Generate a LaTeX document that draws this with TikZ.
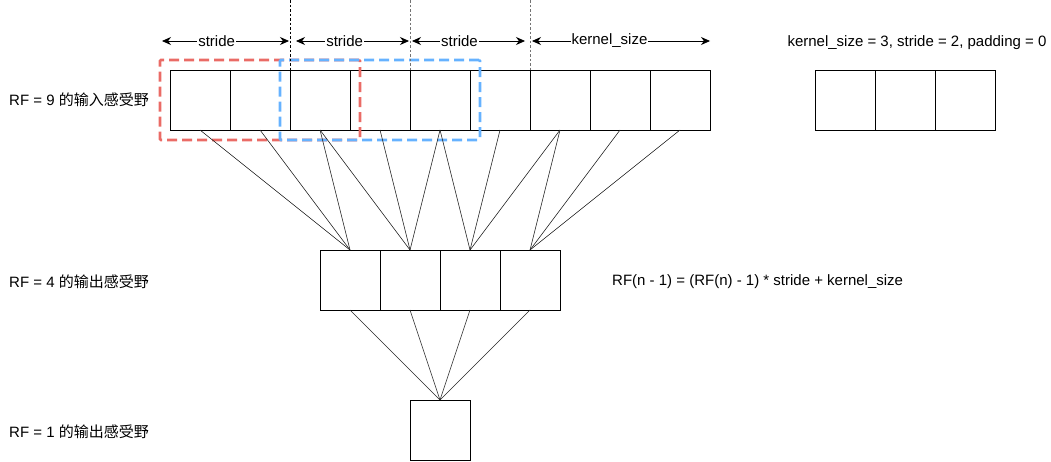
\documentclass[tikz,border=0pt]{standalone}
\usepackage{fontspec}
\setmainfont{Liberation Sans}
\newfontfamily\cjk{Noto Sans CJK SC}
\usetikzlibrary{positioning,fit,arrows.meta}
\definecolor{dashred}{HTML}{EA6B66}
\definecolor{dashblue}{HTML}{66B2FF}
\tikzset{
  cell/.style={draw=black,line width=0.9pt,minimum size=60pt,inner sep=0pt,outer sep=0pt},
  link/.style={draw=black!85,line width=0.6pt},
  guide/.style={dash pattern=on 2.5pt off 2pt,line width=0.9pt},
  span/.style={{Stealth[length=9pt,width=8pt]}-{Stealth[length=9pt,width=8pt]},line width=0.8pt},
  tag/.style={fill=white,inner sep=1pt},
  window/.style={dash pattern=on 10pt off 5pt,line width=2.8pt,inner sep=10pt,rounded corners=1pt},
  lbl/.style={anchor=west,inner sep=0pt}
}

\begin{document}
\begin{tikzpicture}[x=1pt,y=-1pt,font=\fontsize{15}{18}\selectfont]
  \useasboundingbox (0,0) rectangle (1051,461);

  % input row
  \node [cell] (in1) at (200,100) {};
  \node [cell,right=0pt of in1] (in2) {};
  \node [cell,right=0pt of in2] (in3) {};
  \node [cell,right=0pt of in3] (in4) {};
  \node [cell,right=0pt of in4] (in5) {};
  \node [cell,right=0pt of in5] (in6) {};
  \node [cell,right=0pt of in6] (in7) {};
  \node [cell,right=0pt of in7] (in8) {};
  \node [cell,right=0pt of in8] (in9) {};

  % middle row
  \node [cell] (mid1) at (350,280) {};
  \node [cell,right=0pt of mid1] (mid2) {};
  \node [cell,right=0pt of mid2] (mid3) {};
  \node [cell,right=0pt of mid3] (mid4) {};

  % output
  \node [cell] (out1) at (440,430) {};

  % kernel
  \node [cell] (k1) at (845,100) {};
  \node [cell,right=0pt of k1] (k2) {};
  \node [cell,right=0pt of k2] (k3) {};

  \node [lbl] (rf9) at (9,100) {RF = 9 {\cjk 的输入感受野}};
  \node [lbl] (rf4) at (9,282) {RF = 4 {\cjk 的输出感受野}};
  \node [lbl] (rf1) at (9,432) {RF = 1 {\cjk 的输出感受野}};
  \node [lbl] (formula) at (612,282) {RF(n - 1) = (RF(n) - 1) * stride + kernel\_size};
  \node (params) at (917,43) {kernel\_size = 3, stride = 2, padding = 0};

  \node [window,draw=dashred,fit=(in1)(in3)] (win1) {};
  \node [window,draw=dashblue,fit=(in3)(in5)] (win2) {};

  \foreach \a/\b in {1/1,2/1,3/1,3/2,4/2,5/2,5/3,6/3,7/3,7/4,8/4,9/4}
    \draw [link] (in\a.south) -- (mid\b.north);
  \foreach \b in {1,...,4}
    \draw [link] (mid\b.south) -- (out1.north);

  % stride guides
  \coordinate (g1) at (in3.north west|-0,0);
  \coordinate (g2) at (in5.north west|-0,0);
  \coordinate (g3) at (in7.north west|-0,0);
  \draw [guide,black] (g1) -- (in3.north west);
  \draw [guide,black!55] (g2) -- (in5.north west);
  \draw [guide,black!55] (g3) -- (in7.north west);

  \coordinate (s0) at (162,41);
  \coordinate (s1) at (289,41);
  \coordinate (s2) at (296,41);
  \coordinate (s3) at (409,41);
  \coordinate (s4) at (412,41);
  \coordinate (s5) at (525,41);
  \coordinate (s6) at (532,41);
  \coordinate (s7) at (710,41);
  \draw [span] (s0) -- node[tag,pos=0.43]{stride} (s1);
  \draw [span] (s2) -- node[tag,pos=0.43]{stride} (s3);
  \draw [span] (s4) -- node[tag,pos=0.42]{stride} (s5);
  \draw [span] (s6) -- node[tag,pos=0.435]{kernel\_size} (s7);
\end{tikzpicture}
\end{document}
